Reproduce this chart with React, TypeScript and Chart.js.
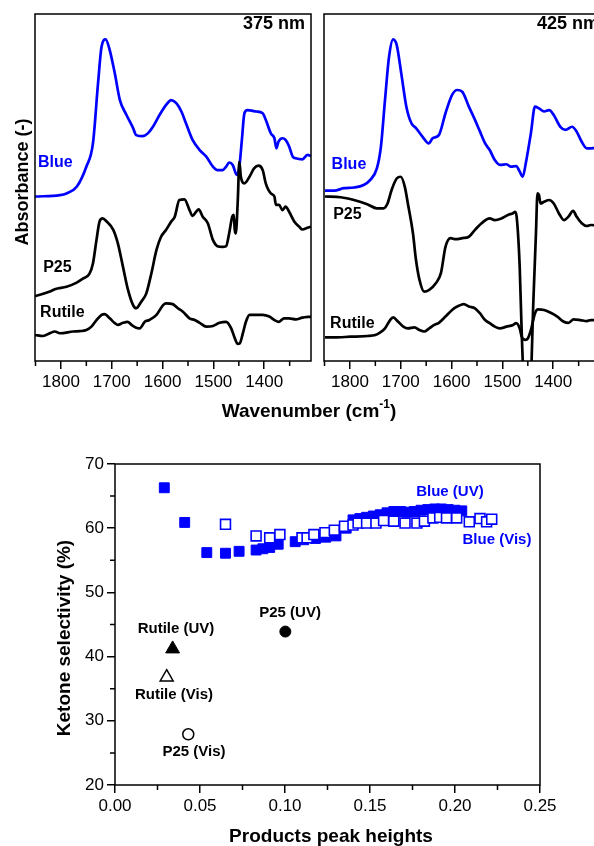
import React, { useEffect, useRef } from 'react';
import { Chart, registerables } from 'chart.js';

Chart.register(...registerables);

const FONT = '"Liberation Sans", Arial, Helvetica, sans-serif';
const BLUE = '#0000ff';
const BLACK = '#000000';

// ---------- Spectra, 375 nm panel (wavenumber, absorbance a.u.) ----------
const blue375X = [1851,1802,1789,1769,1750,1737,1727,1720,1712,1704,1694,1684,1671,1658,1652,1639,1629,1619,1606,1593,1583,1573,1563,1554,1541,1527,1514,1501,1492,1482,1475,1469,1462,1454,1449,1444,1439,1433,1416,1403,1397,1387,1380,1376,1372,1364,1358,1351,1344,1338,1325,1315,1308];
const blue375Y = [47.4,47.8,48.3,50.2,56.0,62.7,80.0,90.6,92.7,89.6,82.9,75.2,70.9,67.1,65.1,64.8,65.6,67.5,70.9,73.8,75.2,74.3,71.9,68.5,63.7,60.8,58.9,56.0,55.0,55.0,56.0,57.2,56.5,53.6,56.0,63.7,71.4,72.3,71.9,71.4,69.5,65.6,64.2,61.3,63.2,64.2,63.7,61.8,58.9,58.4,58.1,59.4,59.1];

const p25_375X = [1851,1822,1812,1789,1769,1756,1744,1737,1730,1724,1718,1710,1697,1688,1678,1668,1658,1652,1642,1632,1622,1612,1603,1593,1583,1576,1567,1557,1547,1541,1534,1529,1521,1511,1501,1492,1482,1475,1469,1463,1460,1458,1456,1452,1449,1446,1439,1429,1420,1411,1403,1397,1387,1380,1377,1371,1364,1358,1351,1341,1331,1325,1315,1308];
const p25_375Y = [18.7,20.0,20.7,21.4,22.6,23.8,25.1,28.1,34.9,40.2,41.1,40.2,37.8,33.9,27.2,20.5,16.1,15.2,17.1,19.5,25.3,32.0,35.8,37.8,40.2,41.6,46.4,46.6,43.5,41.8,43.0,43.7,41.6,39.7,34.9,33.1,32.9,33.1,36.8,41.6,42.1,37.8,36.8,46.4,57.4,53.1,51.2,53.1,55.5,56.3,55.0,51.2,48.3,47.4,45.0,45.0,43.5,44.5,43.0,40.2,38.7,37.9,38.4,38.7];

const rutile375X = [1851,1835,1822,1812,1802,1776,1763,1750,1740,1730,1720,1714,1704,1694,1688,1678,1669,1661,1652,1645,1635,1626,1612,1599,1593,1580,1570,1560,1547,1537,1527,1514,1501,1488,1475,1465,1459,1452,1448,1442,1436,1429,1416,1403,1390,1380,1371,1361,1351,1338,1325,1308];
const rutile375Y = [7.5,7.2,8.0,8.5,8.0,8.5,8.6,8.9,9.9,11.8,13.3,13.5,12.3,10.9,10.4,11.0,11.3,10.4,9.6,9.4,11.3,11.8,13.3,16.1,16.6,16.4,15.2,14.2,12.3,11.8,11.0,9.9,10.1,11.0,11.3,9.4,7.0,4.9,5.1,8.0,11.3,13.3,13.3,13.3,12.8,11.8,11.3,12.3,12.3,12.0,12.5,12.8];

// ---------- Spectra, 425 nm panel ----------
const blue425X = [1849,1831,1812,1792,1773,1760,1747,1739,1731,1723,1715,1708,1699,1689,1679,1670,1657,1645,1637,1625,1612,1599,1589,1579,1566,1554,1544,1534,1525,1515,1505,1492,1483,1473,1466,1460,1454,1444,1436,1428,1418,1408,1399,1386,1376,1363,1354,1344,1334,1326,1308];
const blue425Y = [49.1,49.1,49.8,50.0,50.7,52.2,55.5,61.8,75.2,87.7,92.7,91.1,82.9,73.3,68.5,67.1,64.6,62.7,64.2,65.1,71.4,76.7,78.1,77.6,73.3,69.5,66.1,62.7,60.8,57.9,56.5,56.7,56.0,56.2,54.6,53.1,57.0,65.6,73.3,72.8,71.9,72.3,70.9,67.5,66.6,67.5,66.1,63.2,61.3,61.3,61.5];

const p25_425X = [1849,1818,1792,1766,1747,1734,1726,1718,1708,1700,1692,1686,1676,1670,1663,1654,1644,1631,1621,1612,1602,1592,1579,1566,1554,1541,1525,1515,1502,1489,1479,1475,1472,1466,1462,1456,1446,1439,1434,1431,1428,1425,1418,1408,1399,1389,1379,1370,1361,1354,1344,1334,1326,1308];
const p25_425Y = [47.4,47.2,46.4,45.2,44.0,44.0,45.4,49.3,52.6,53.1,50.2,45.4,36.8,29.1,23.3,20.0,20.5,22.4,25.3,32.9,35.4,35.1,35.4,35.8,37.8,39.7,41.1,40.6,41.1,42.1,42.6,43.0,41.6,27.2,8.0,-10,-10,17.6,36.8,48.3,47.8,45.4,45.9,46.4,45.4,42.6,40.6,41.6,43.3,41.6,39.7,38.9,39.2,39.0];

const rutile425X = [1849,1831,1799,1766,1750,1741,1731,1721,1715,1705,1695,1686,1673,1663,1654,1644,1634,1625,1612,1599,1586,1576,1566,1554,1544,1534,1525,1515,1505,1492,1479,1473,1466,1462,1455,1450,1444,1436,1430,1418,1405,1392,1379,1370,1360,1347,1334,1326,1308];
const rutile425Y = [6.8,6.8,7.0,7.2,7.5,8.2,9.4,11.8,12.6,11.3,9.9,9.4,9.7,8.9,8.5,9.4,10.4,11.0,12.8,14.7,15.9,16.4,15.7,15.2,13.7,11.8,10.9,9.9,9.4,9.9,10.4,10.9,9.4,7.0,6.1,6.5,8.9,13.7,14.9,14.7,13.9,12.8,11.3,11.0,12.0,11.8,11.5,11.8,11.8];

const waveTicksMajor = [1800, 1700, 1600, 1500, 1400];
const waveTicksMinor = [1850, 1750, 1650, 1550, 1450, 1350];

// ---------- Selectivity vs products peak heights ----------
const blueUvX = [0.029,0.041,0.054,0.065,0.073,0.083,0.087,0.091,0.096,0.106,0.111,0.118,0.124,0.130,0.136,0.140,0.144,0.148,0.152,0.156,0.160,0.164,0.168,0.172,0.176,0.180,0.184,0.188,0.192,0.196,0.200,0.204];
const blueUvY = [66.3,60.9,56.2,56.1,56.4,56.6,56.8,57.0,57.5,57.9,58.2,58.4,58.6,58.8,60.0,61.3,61.5,61.7,61.9,62.1,62.4,62.6,62.6,62.5,62.6,62.8,62.9,63.0,63.0,62.9,62.8,62.7];

const blueVisX = [0.065,0.083,0.091,0.097,0.110,0.113,0.117,0.1235,0.129,0.135,0.140,0.143,0.148,0.1535,0.158,0.164,0.1706,0.1776,0.182,0.187,0.191,0.195,0.201,0.2084,0.2147,0.2186,0.2216];
const blueVisY = [60.6,58.8,58.5,59.0,58.5,58.5,59.0,59.3,59.7,60.3,60.5,60.8,60.8,60.8,61.2,61.1,60.8,60.8,61.1,61.6,61.7,61.6,61.6,61.0,61.5,61.0,61.4];

const rutileUvX = [0.0339];
const rutileUvY = [41.2];
const rutileVisX = [0.0304];
const rutileVisY = [36.8];
const p25UvX = [0.1002];
const p25UvY = [43.9];
const p25VisX = [0.0431];
const p25VisY = [27.9];

const selTicksMinorX = [0.025, 0.075, 0.125, 0.175, 0.225];
const selTicksMinorY = [25, 35, 45, 55, 65];

// ---------- helpers ----------
const pts = (xs: number[], ys: number[]) => xs.map((x, i) => ({ x, y: ys[i] }));

type TextItem = {
  text: string; x: number; y: number; data?: boolean; font: string; color: string;
  align?: CanvasTextAlign; rotate?: number; sup?: string; tail?: string; supFont?: string;
};

function textPlugin(items: TextItem[]) {
  return {
    id: 'texts',
    afterDraw(chart: any) {
      const ctx = chart.ctx as CanvasRenderingContext2D;
      for (const it of items) {
        let x = it.x, y = it.y;
        if (it.data) {
          x = chart.scales.x.getPixelForValue(it.x);
          y = chart.scales.y.getPixelForValue(it.y);
        }
        ctx.save();
        ctx.fillStyle = it.color;
        ctx.textBaseline = 'middle';
        ctx.translate(x, y);
        if (it.rotate) ctx.rotate(it.rotate);
        ctx.font = it.font;
        if (it.sup) {
          const w1 = ctx.measureText(it.text).width;
          const w3 = ctx.measureText(it.tail || '').width;
          ctx.font = it.supFont || it.font;
          const w2 = ctx.measureText(it.sup).width;
          let sx = -(w1 + w2 + w3) / 2;
          ctx.textAlign = 'left';
          ctx.font = it.font;
          ctx.fillText(it.text, sx, 0);
          sx += w1;
          ctx.font = it.supFont || it.font;
          ctx.fillText(it.sup, sx, -7);
          sx += w2;
          ctx.font = it.font;
          ctx.fillText(it.tail || '', sx, 0);
        } else {
          ctx.textAlign = it.align || 'left';
          ctx.fillText(it.text, 0, 0);
        }
        ctx.restore();
      }
    },
  };
}

const framePlugin = {
  id: 'frame',
  afterDatasetsDraw(chart: any) {
    const { left, top, right, bottom } = chart.chartArea;
    const ctx = chart.ctx as CanvasRenderingContext2D;
    ctx.save();
    ctx.strokeStyle = BLACK;
    ctx.lineWidth = 1.5;
    ctx.strokeRect(left, top, right - left, bottom - top);
    ctx.restore();
  },
};

function minorTicksPlugin(xVals: number[], yVals: number[], len: number) {
  return {
    id: 'minorTicks',
    afterDraw(chart: any) {
      const { left, bottom } = chart.chartArea;
      const ctx = chart.ctx as CanvasRenderingContext2D;
      ctx.save();
      ctx.strokeStyle = BLACK;
      ctx.lineWidth = 1.5;
      ctx.beginPath();
      for (const v of xVals) {
        const px = chart.scales.x.getPixelForValue(v);
        ctx.moveTo(px, bottom);
        ctx.lineTo(px, bottom + len);
      }
      for (const v of yVals) {
        const py = chart.scales.y.getPixelForValue(v);
        ctx.moveTo(left, py);
        ctx.lineTo(left - len, py);
      }
      ctx.stroke();
      ctx.restore();
    },
  };
}

const tickFont = { family: FONT, size: 17 };
const majorGrid = {
  display: true, drawOnChartArea: false, drawTicks: true, tickLength: 8,
  color: BLACK, lineWidth: 1.5,
};

type Series = { x: number[]; y: number[]; color: string };

function spectrumConfig(series: Series[], texts: TextItem[], padRight: number, xHeight: number): any {
  return {
    type: 'line',
    data: {
      datasets: series.map((s) => ({
        data: pts(s.x, s.y),
        borderColor: s.color,
        borderWidth: 2.7,
        pointRadius: 0,
        fill: false,
        cubicInterpolationMode: 'monotone',
      })),
    },
    options: {
      responsive: false,
      animation: false,
      devicePixelRatio: 1,
      events: [],
      layout: { padding: { top: 14, right: padRight, left: 0, bottom: 0 } },
      plugins: { legend: { display: false }, tooltip: { enabled: false } },
      scales: {
        x: {
          type: 'linear',
          reverse: true,
          min: 1308,
          max: 1851,
          afterFit: (s: any) => { s.height = xHeight; },
          ticks: {
            stepSize: 100,
            includeBounds: false,
            autoSkip: false,
            maxRotation: 0,
            padding: 3,
            color: BLACK,
            font: tickFont,
            callback: (v: number) => (waveTicksMajor.includes(v) ? String(v) : ''),
          },
          grid: majorGrid,
          border: { display: false },
        },
        y: {
          type: 'linear',
          min: 0,
          max: 100,
          afterFit: (s: any) => { s.width = 35; },
          ticks: { display: false },
          grid: { display: false },
          border: { display: false },
        },
      },
    },
    plugins: [framePlugin, minorTicksPlugin(waveTicksMinor, [], 5), textPlugin(texts)],
  };
}

const labelFont = `bold 16px ${FONT}`;
const nmFont = `bold 18px ${FONT}`;
const titleFont = `bold 19px ${FONT}`;

function buildPanel1() {
  return spectrumConfig(
    [
      { x: rutile375X, y: rutile375Y, color: BLACK },
      { x: p25_375X, y: p25_375Y, color: BLACK },
      { x: blue375X, y: blue375Y, color: BLUE },
    ],
    [
      { text: 'Blue', x: 1845, y: 57.2, data: true, font: labelFont, color: BLUE },
      { text: 'P25', x: 1835, y: 26.9, data: true, font: labelFont, color: BLACK },
      { text: 'Rutile', x: 1841, y: 14.0, data: true, font: labelFont, color: BLACK },
      { text: '375 nm', x: 305, y: 24, font: nmFont, color: BLACK, align: 'right' },
      { text: 'Absorbance (-)', x: 23, y: 182, font: `bold 18px ${FONT}`, color: BLACK, align: 'center', rotate: -Math.PI / 2 },
      { text: 'Wavenumber (cm', sup: '-1', tail: ')', supFont: `bold 12px ${FONT}`, x: 309, y: 412, font: titleFont, color: BLACK },
    ],
    594 - 311,
    435 - 361,
  );
}

function buildPanel2() {
  return spectrumConfig(
    [
      { x: rutile425X, y: rutile425Y, color: BLACK },
      { x: p25_425X, y: p25_425Y, color: BLACK },
      { x: blue425X, y: blue425Y, color: BLUE },
    ],
    [
      { text: 'Blue', x: 1836, y: 56.7, data: true, font: labelFont, color: BLUE },
      { text: 'P25', x: 1833, y: 42.3, data: true, font: labelFont, color: BLACK },
      { text: 'Rutile', x: 1839, y: 10.9, data: true, font: labelFont, color: BLACK },
      { text: '425 nm', x: 310, y: 24, font: nmFont, color: BLACK, align: 'right' },
    ],
    9,
    400 - 361,
  );
}

const scatterLabelFont = `bold 15px ${FONT}`;

function buildScatter(): any {
  return {
    type: 'scatter',
    data: {
      datasets: [
        { label: 'Blue (Vis)', data: pts(blueVisX, blueVisY), pointStyle: 'rect', pointRadius: 7, backgroundColor: '#ffffff', borderColor: BLUE, borderWidth: 1.6, order: 0 },
        { label: 'Blue (UV)', data: pts(blueUvX, blueUvY), pointStyle: 'rect', pointRadius: 7, backgroundColor: BLUE, borderColor: BLUE, borderWidth: 1, order: 1 },
        { label: 'Rutile (UV)', data: pts(rutileUvX, rutileUvY), pointStyle: 'triangle', pointRadius: 8, backgroundColor: BLACK, borderColor: BLACK, borderWidth: 1, order: 2 },
        { label: 'Rutile (Vis)', data: pts(rutileVisX, rutileVisY), pointStyle: 'triangle', pointRadius: 7.5, backgroundColor: '#ffffff', borderColor: BLACK, borderWidth: 1.5, order: 2 },
        { label: 'P25 (UV)', data: pts(p25UvX, p25UvY), pointStyle: 'circle', pointRadius: 5.5, backgroundColor: BLACK, borderColor: BLACK, borderWidth: 1, order: 2 },
        { label: 'P25 (Vis)', data: pts(p25VisX, p25VisY), pointStyle: 'circle', pointRadius: 5.5, backgroundColor: '#ffffff', borderColor: BLACK, borderWidth: 1.5, order: 2 },
      ],
    },
    options: {
      responsive: false,
      animation: false,
      devicePixelRatio: 1,
      events: [],
      layout: { padding: { top: 24, right: 54, left: 0, bottom: 0 } },
      plugins: { legend: { display: false }, tooltip: { enabled: false } },
      scales: {
        x: {
          type: 'linear',
          min: 0,
          max: 0.25,
          afterFit: (s: any) => { s.height = 406 - 345; },
          ticks: {
            stepSize: 0.05,
            autoSkip: false,
            maxRotation: 0,
            padding: 3,
            color: BLACK,
            font: tickFont,
            callback: (v: number) => v.toFixed(2),
          },
          grid: majorGrid,
          border: { display: false },
        },
        y: {
          type: 'linear',
          min: 20,
          max: 70,
          afterFit: (s: any) => { s.width = 115; },
          ticks: {
            stepSize: 10,
            padding: 3,
            color: BLACK,
            font: tickFont,
            callback: (v: number) => String(v),
          },
          grid: majorGrid,
          border: { display: false },
        },
      },
    },
    plugins: [
      framePlugin,
      minorTicksPlugin(selTicksMinorX, selTicksMinorY, 5),
      textPlugin([
        { text: 'Blue (UV)', x: 0.197, y: 65.7, data: true, font: scatterLabelFont, color: BLUE, align: 'center' },
        { text: 'Blue (Vis)', x: 0.2247, y: 58.2, data: true, font: scatterLabelFont, color: BLUE, align: 'center' },
        { text: 'P25 (UV)', x: 0.103, y: 46.8, data: true, font: scatterLabelFont, color: BLACK, align: 'center' },
        { text: 'Rutile (UV)', x: 0.0359, y: 44.3, data: true, font: scatterLabelFont, color: BLACK, align: 'center' },
        { text: 'Rutile (Vis)', x: 0.0347, y: 34.0, data: true, font: scatterLabelFont, color: BLACK, align: 'center' },
        { text: 'P25 (Vis)', x: 0.0465, y: 25.1, data: true, font: scatterLabelFont, color: BLACK, align: 'center' },
        { text: 'Ketone selectivity (%)', x: 65, y: 198, font: titleFont, color: BLACK, align: 'center', rotate: -Math.PI / 2 },
        { text: 'Products peak heights', x: 331, y: 397, font: titleFont, color: BLACK, align: 'center' },
      ]),
    ],
  };
}

function ChartCanvas(props: { left: number; top: number; width: number; height: number; build: () => any }) {
  const ref = useRef<HTMLCanvasElement | null>(null);
  useEffect(() => {
    if (!ref.current) return;
    const chart = new Chart(ref.current, props.build());
    return () => chart.destroy();
  }, []);
  return (
    <canvas
      ref={ref}
      width={props.width}
      height={props.height}
      style={{ position: 'absolute', left: props.left, top: props.top, width: props.width, height: props.height }}
    />
  );
}

export default function App() {
  return (
    <div style={{ position: 'absolute', left: 0, top: 0, width: 594, height: 846, overflow: 'hidden', background: '#ffffff' }}>
      <ChartCanvas left={0} top={0} width={594} height={435} build={buildPanel1} />
      <ChartCanvas left={289} top={0} width={320} height={400} build={buildPanel2} />
      <ChartCanvas left={0} top={440} width={594} height={406} build={buildScatter} />
    </div>
  );
}
